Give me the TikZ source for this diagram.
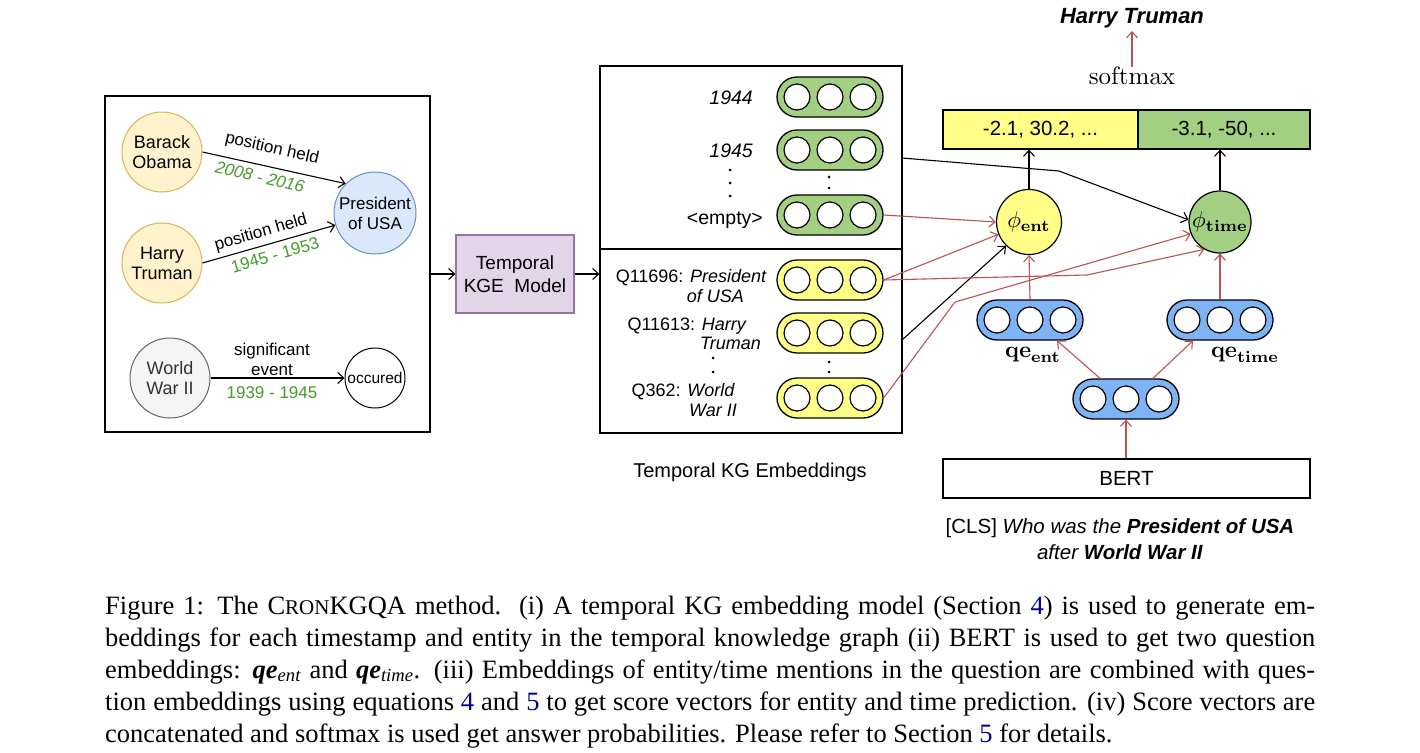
\documentclass[tikz,border=0pt]{standalone}
\usepackage[no-math]{fontspec}
\setmainfont{Liberation Sans}
\newfontfamily\capserif{Liberation Serif}
\usetikzlibrary{arrows.meta}

\definecolor{kgred}{HTML}{B85450}
\definecolor{entfill}{HTML}{FFF2CC}
\definecolor{entdraw}{HTML}{D6B656}
\definecolor{relfill}{HTML}{DAE8FC}
\definecolor{reldraw}{HTML}{6C8EBF}
\definecolor{evfill}{HTML}{F5F5F5}
\definecolor{evdraw}{HTML}{666666}
\definecolor{kgefill}{HTML}{E1D5E7}
\definecolor{kgedraw}{HTML}{9673A6}
\definecolor{timegreen}{HTML}{A2CF82}
\definecolor{entyellow}{HTML}{FFFF88}
\definecolor{qblue}{HTML}{7EB4F5}
\definecolor{datecol}{HTML}{469A2C}
\definecolor{linkblue}{rgb}{0,0,0.55}

\newcommand{\setfs}[2]{\fontsize{#1}{#2}\selectfont}
% math labels set at 10pt and enlarged, keeping the heavier small design sizes
\newcommand{\bigmath}[2]{\scalebox{#1}{\fontsize{10}{12}\selectfont$#2$}}

% an embedding vector: rounded pill holding three unit circles
\newcommand{\embpill}[4]{%
  \node[pill, fill=#4] (#1) at (#2,#3) {};
  \node[unit] (#1-1) at ([xshift=-33pt]#1.center) {};
  \node[unit] (#1-2) at (#1.center) {};
  \node[unit] (#1-3) at ([xshift=33pt]#1.center) {};
}

\begin{document}
\begin{tikzpicture}[x=1pt,y=-1pt,
  every node/.style={inner sep=0pt},
  kgent/.style={circle, draw=entdraw, fill=entfill, line width=1pt, minimum size=80pt, align=center, font=\setfs{18}{20}},
  pill/.style={draw, line width=1.3pt, rounded corners=20pt, minimum width=106pt, minimum height=40pt},
  unit/.style={circle, draw, fill=white, line width=1.2pt, minimum size=26pt},
  frame/.style={draw, line width=1.2pt},
  edgelbl/.style={font=\setfs{17}{20}},
  datelbl/.style={font=\setfs{17}{20}, text=datecol},
  openhead/.style={-{Straight Barb[length=6pt,width=11pt]}},
  conn/.style={line width=1.1pt, openhead},
  redconn/.style={conn, draw=kgred},
  qlbl/.style={anchor=base east, font=\setfs{18}{20}},
  ylbl/.style={anchor=base east, font=\setfs{19.5}{22}},
]
\useasboundingbox (0,0) rectangle (1420,752);
\fill[white] (0,0) rectangle (1420,752);

% ---------------- temporal knowledge graph ----------------
\node[frame, minimum width=325pt, minimum height=336pt] (kgbox) at (267.5,264) {};

\node[kgent] (obama) at (162,152) {Barack\\Obama};
\node[kgent] (truman) at (162,263) {Harry\\Truman};
\node[circle, draw=reldraw, fill=relfill, line width=1pt, minimum size=82pt, align=center, font=\setfs{17}{20}] (potus) at (375,213) {President\\of USA};
\node[circle, draw=evdraw, fill=evfill, line width=1pt, minimum size=80pt, align=center, font=\setfs{18}{20}, text=black!80] (ww2) at (170,378) {World\\War II};
\node[circle, draw, line width=1pt, minimum size=60pt, font=\setfs{15.5}{18}] (occ) at (375,378) {occured};

\draw[conn] (obama.east) -- (potus.135);
\draw[conn] (truman.east) -- (potus.197);
\draw[conn] (ww2) -- (occ);

\node[edgelbl, rotate=-13] (l1) at (272,149) {position held};
\node[datelbl, rotate=-13, font=\setfs{17}{20}\itshape] (d1) at (260,177) {2008 - 2016};
\node[edgelbl, rotate=16] (l2) at (261,233) {position held};
\node[datelbl, rotate=16] (d2) at (275,255) {1945 - 1953};
\node[edgelbl, align=center] (l3) at (272,359) {significant\\event};
\node[datelbl] (d3) at (272,393) {1939 - 1945};

% ---------------- temporal KGE model ----------------
\node[draw=kgedraw, fill=kgefill, line width=1.2pt, minimum width=118pt, minimum height=78pt, align=center, font=\setfs{19}{23}] (kge) at (515,274) {Temporal\\KGE\ \ Model};
\draw[conn] (kgbox.east |- kge.west) -- (kge.west);

% ---------------- temporal KG embeddings ----------------
\node[frame, minimum width=302pt, minimum height=183pt] (timesec) at (751,157.5) {};
\node[frame, minimum width=302pt, minimum height=184pt] (entsec) at (751,341) {};
\draw[conn] (kge.east) -- (kge.east -| entsec.west);

\embpill{t1944}{830}{97}{timegreen}
\embpill{t1945}{830}{150}{timegreen}
\embpill{tempty}{830}{215}{timegreen}
\embpill{epres}{830}{280}{entyellow}
\embpill{etrum}{830}{333}{entyellow}
\embpill{eww}{830}{398}{entyellow}

\node[ylbl, font=\setfs{19.5}{22}\itshape] (y1944) at (753,104) {1944};
\node[ylbl, font=\setfs{19.5}{22}\itshape] (y1945) at (753,157) {1945};
\node[ylbl] (yempty) at (763,224) {<empty>};

\node[qlbl] (q1a) at (767,282.5) {Q11696: \textit{President}};
\node[qlbl] (q1b) at (744,302.5) {\textit{of USA}};
\node[qlbl] (q2a) at (747,330.5) {Q11613: \textit{Harry}};
\node[qlbl] (q2b) at (761,349.5) {\textit{Truman}};
\node[qlbl] (q3a) at (735,396.5) {Q362: \textit{World}};
\node[qlbl] (q3b) at (737,416.5) {\textit{War II}};

% elision dots
\foreach \yy in {170,183,196} \fill (730,\yy) circle (1.5pt);
\foreach \yy in {177,188} \fill (829,\yy) circle (1.5pt);
\foreach \yy in {358,372} \fill (713,\yy) circle (1.5pt);
\foreach \yy in {362,372} \fill (829,\yy) circle (1.5pt);

\node[font=\setfs{20}{24}] (embcap) at (750,472) {Temporal KG Embeddings};

% ---------------- scoring ----------------
\node[frame, fill=entyellow, minimum width=195pt, minimum height=39pt, font=\setfs{20.5}{24}] (scent) at (1040.5,129.5) {-2.1, 30.2, ...};
\node[frame, fill=timegreen, minimum width=172pt, minimum height=39pt, font=\setfs{20.5}{24}] (sctime) at (1224,129.5) {-3.1, -50, ...};

\node[circle, draw, fill=entyellow, line width=1.2pt, minimum size=65pt] (phient) at (1029,222) {\bigmath{2.3}{\phi_{\mathbf{ent}}}};
\node[circle, draw, fill=timegreen, line width=1.2pt, minimum size=62pt] (phitime) at (1220,222) {\bigmath{2.3}{\phi_{\mathbf{time}}}};

\draw[conn] (phient.north) -- (phient.north |- scent.south);
\draw[conn] (phitime.north) -- (phitime.north |- sctime.south);

\node (softmax) at (1132,76) {\bigmath{2.5}{\mathrm{softmax}}};
\node[font=\setfs{22}{24}\bfseries\itshape] (answer) at (1132,18) {Harry Truman};
\draw[redconn] (softmax.north) -- ([yshift=-3pt]answer.south);

% ---------------- question encoder ----------------
\embpill{qeent}{1030}{320}{qblue}
\embpill{qetime}{1220}{320}{qblue}
\embpill{qcls}{1126}{399}{qblue}
\node (qeentlbl) at (1033,355) {\bigmath{2.3}{\mathbf{qe}_{\mathbf{ent}}}};
\node (qetimelbl) at (1245,355) {\bigmath{2.3}{\mathbf{qe}_{\mathbf{time}}}};

\node[frame, minimum width=367pt, minimum height=39pt, font=\setfs{20.5}{24}] (bert) at (1126.5,478.5) {BERT};
\node[align=center, font=\setfs{20.5}{26}] (question) at (1120,539) {[CLS] \textit{Who was the \textbf{President of USA}}\\\textit{after \textbf{World War II}}};

\draw[redconn] (bert.north -| qcls.south) -- (qcls.south);
\draw[redconn] ([xshift=-26pt]qcls.north) -- ([xshift=27pt]qeent.south);
\draw[redconn] ([xshift=27pt]qcls.north) -- ([xshift=-27pt]qetime.south);
\draw[redconn] (qeent.north) -- (phient.south);
\draw[redconn] (qetime.north) -- (phitime.south);

% embeddings feeding the scoring functions
\coordinate (tsOut) at (902,158);
\coordinate (entOut) at (902,340);
\draw[conn] (tsOut) -- (1059,171) -- (phitime.176);
\draw[conn] (entOut) -- (phient.226);
\draw[redconn] (tempty.east) -- (phient.west);
\draw[redconn] (epres.east) -- (phient.202);
\draw[redconn] (epres.east) -- (1087,275) -- (phitime.240);
\draw[redconn] (eww.east) -- (955,302) -- (phitime.202);

% ---------------- caption ----------------
\node[anchor=base west] (caption) at (105,614) {\parbox[t]{1210pt}{\capserif\setfs{26.5}{32}\tolerance=10000\hyphenpenalty=10000
Figure 1: The C{\setfs{21}{32}RON}KGQA method.\ \ (i) A temporal KG embedding model (Section \textcolor{linkblue}{4}) is used to generate em-\linebreak
beddings for each timestamp and entity in the temporal knowledge graph (ii) BERT is used to get two question\linebreak
embeddings: \textbf{\textit{qe}}\textsubscript{\textit{ent}} and \textbf{\textit{qe}}\textsubscript{\textit{time}}. (iii) Embeddings of entity/time mentions in the question are combined with ques-\linebreak
tion embeddings using equations \textcolor{linkblue}{4} and \textcolor{linkblue}{5} to get score vectors for entity and time prediction. (iv) Score vectors are\linebreak
concatenated and softmax is used get answer probabilities. Please refer to Section \textcolor{linkblue}{5} for details.}};
\end{tikzpicture}
\end{document}
